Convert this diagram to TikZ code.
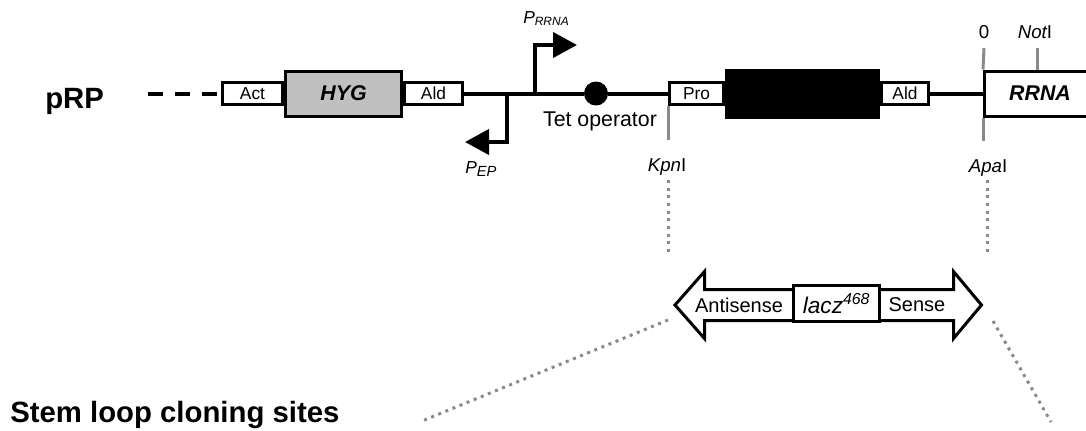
\documentclass[tikz,border=0pt]{standalone}
\usepackage{fontspec}
\setmainfont{Liberation Sans}
\usetikzlibrary{arrows.meta,positioning,calc}

\definecolor{sitegray}{RGB}{138,138,138}
\definecolor{hygfill}{RGB}{192,192,192}

\tikzset{
  box/.style={draw, line width=2.25pt, fill=white, inner sep=0pt, minimum height=16.5pt,
    font=\fontsize{13pt}{15pt}\selectfont},
  bigbox/.style={box, minimum height=33.75pt, font=\fontsize{16pt}{19pt}\selectfont\bfseries\itshape},
  strand/.style={line width=3pt},
  promoter/.style={line width=3pt, line join=miter, -{Triangle[length=18pt,width=18.75pt]}},
  site/.style={sitegray, line width=2.25pt},
  dotline/.style={sitegray, line width=2.25pt, dash pattern=on 2.25pt off 3.5pt},
  genebar/.style={draw, fill=white, line width=2.25pt, line join=miter},
  lbl/.style={inner sep=0pt, anchor=base, font=\fontsize{14pt}{16pt}\selectfont},
  title/.style={inner sep=0pt, anchor=base west, font=\fontsize{22pt}{26pt}\selectfont\bfseries},
}

\begin{document}
\begin{tikzpicture}[x=0.75pt,y=-0.75pt]

  \useasboundingbox (0,0) rectangle (1086,430);
  \clip (0,0) rectangle (1086,430);

  % plasmid map
  \node[title] (prp) at (45,108) {pRP};
  \coordinate (dashstart) at (148,93.5);

  \node[box, minimum width=45pt] (act) at (252.5,93.5) {Act};
  \node[bigbox, fill=hygfill, minimum width=87pt, right=0pt of act] (hyg) {HYG};
  \node[box, minimum width=43.5pt, right=0pt of hyg] (ald1) {Ald};
  \node[circle, fill, minimum size=18pt, inner sep=0pt] (tet) at (596,93.5) {};
  \node[box, minimum width=40.5pt] (pro) at (696.5,93.5) {Pro};
  \node[bigbox, fill=black, minimum width=114pt, minimum height=35.25pt, right=0pt of pro] (gene) {};
  \node[box, minimum width=35.25pt, right=0pt of gene] (ald2) {Ald};
  \node[bigbox, minimum width=83.25pt] (rrna) at (1040,93.5) {RRNA};

  \draw[strand, dash pattern=on 11.25pt off 9pt] (dashstart) -- (act);
  \draw[strand] (ald1) -- (tet) -- (pro);
  \draw[strand] (ald2.east) -- (rrna.west);

  % promoters
  \coordinate (ep) at (507,93.5);
  \coordinate (rr) at (535,93.5);
  \draw[promoter] (ep) -- ++(0,48.5) -- ++(-42,0);
  \draw[promoter] (rr) -- ++(0,-48.5) -- ++(42,0);
  \node[lbl, anchor=base west] (pep) at (465,173)
    {\fontsize{13pt}{15pt}\selectfont\itshape P\raisebox{-2.5pt}{\fontsize{11pt}{13pt}\selectfont EP}};
  \node[lbl, anchor=base west] (prr) at (523,23)
    {\fontsize{13pt}{15pt}\selectfont\itshape P\raisebox{-2pt}{\fontsize{9pt}{11pt}\selectfont RRNA}};
  \node[lbl, font=\fontsize{16pt}{18pt}\selectfont] (tetlbl) at (600,126) {Tet operator};

  % restriction sites
  \draw[site] (pro.south west) -- ++(0,34);
  \draw[site] (984,48) -- (rrna.north west);
  \draw[site] (rrna.south west) -- ++(0,23);
  \draw[site] (1037,48) -- (rrna.north west -| 1037,0);
  \node[lbl] (zero) at (984,38) {0};
  \node[lbl] (noti) at (1035,38) {{\itshape Not}I};
  \node[lbl] (kpni) at (667,171) {{\itshape Kpn}I};
  \node[lbl] (apai) at (988,172) {{\itshape Apa}I};

  \coordinate (kpncut) at (668,180);
  \coordinate (apacut) at (987,180);
  \draw[dotline] (kpncut) -- ++(0,72);
  \draw[dotline] (apacut) -- ++(0,73);

  % lacz insert
  \draw[genebar] (793.5,289.5) -- (704.5,289.5) -- (704.5,271.5) -- (675,305)
    -- (704.5,338.5) -- (704.5,320.5) -- (793.5,320.5);
  \draw[genebar] (879.5,289.5) -- (953.5,289.5) -- (953.5,271.5) -- (981.5,305)
    -- (953.5,338.5) -- (953.5,320.5) -- (879.5,320.5);
  \node[box, minimum width=64.5pt, minimum height=27pt, font=\fontsize{17pt}{19pt}\selectfont]
    (lacz) at (836.5,303.5) {\itshape lacz\textsuperscript{468}};
  \node[inner sep=0pt, font=\fontsize{15pt}{17pt}\selectfont] (anti) at (739,305) {Antisense};
  \node[inner sep=0pt, font=\fontsize{15pt}{17pt}\selectfont] (sense) at (917,305) {Sense};

  \coordinate (antiend) at (668,320);
  \coordinate (senseend) at (993,321);
  \draw[dotline] (antiend) -- (422,421);
  \draw[dotline] (senseend) -- (1051,422);

  \node[title] (stem) at (10,422) {Stem loop cloning sites};

\end{tikzpicture}
\end{document}
